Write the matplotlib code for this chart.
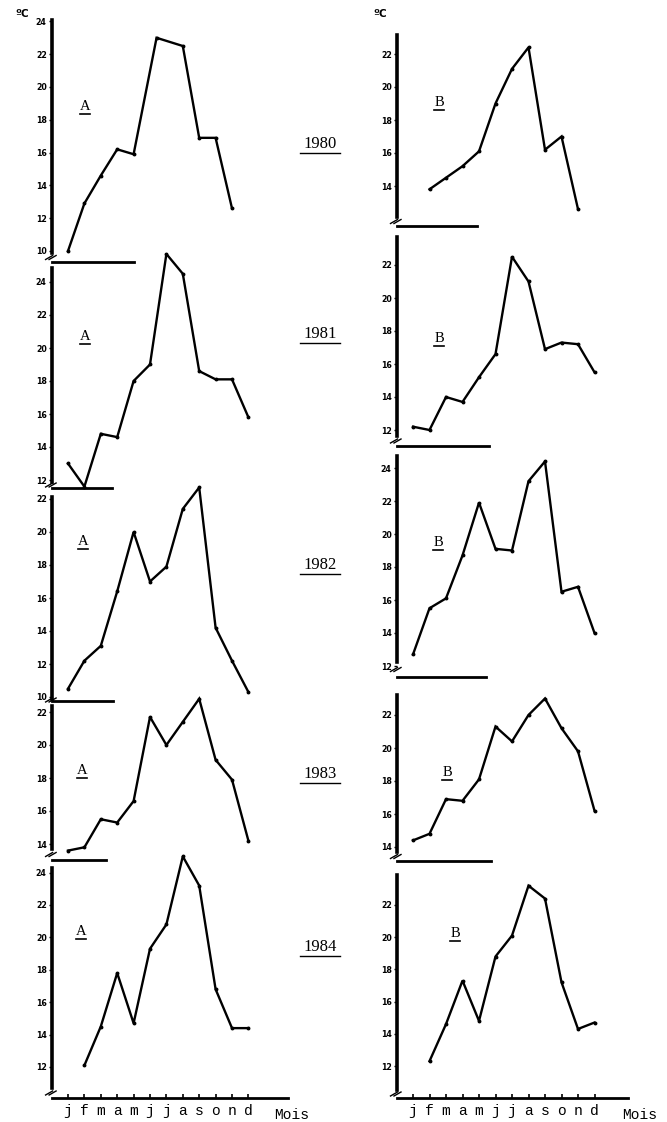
import matplotlib
matplotlib.use("Agg")
import matplotlib.pyplot as plt
from matplotlib.lines import Line2D

# ---------------- data ----------------
months = ['j', 'f', 'm', 'a', 'm', 'j', 'j', 'a', 's', 'o', 'n', 'd']
years = ['1980', '1981', '1982', '1983', '1984']

a1980_x = [0, 1, 2, 3, 4, 5.4, 7, 8, 9, 10]
a1980_t = [10.0, 12.9, 14.6, 16.2, 15.9, 23.0, 22.5, 16.9, 16.9, 12.6]
b1980_x = [1, 2, 3, 4, 5, 6, 7, 8, 9, 10]
b1980_t = [13.8, 14.5, 15.2, 16.1, 19.0, 21.1, 22.4, 16.2, 17.0, 12.6]

a1981_x = list(range(12))
a1981_t = [13.0, 11.6, 14.8, 14.6, 18.0, 19.0, 25.7, 24.5, 18.6, 18.1, 18.1, 15.8]
b1981_x = list(range(12))
b1981_t = [12.2, 12.0, 14.0, 13.7, 15.2, 16.6, 22.5, 21.0, 16.9, 17.3, 17.2, 15.5]

a1982_x = list(range(12))
a1982_t = [10.5, 12.2, 13.1, 16.4, 20.0, 17.0, 17.9, 21.4, 22.7, 14.2, 12.2, 10.3]
b1982_x = list(range(12))
b1982_t = [12.7, 15.5, 16.1, 18.7, 21.9, 19.1, 19.0, 23.2, 24.4, 16.5, 16.8, 14.0]

a1983_x = list(range(12))
a1983_t = [13.6, 13.8, 15.5, 15.3, 16.6, 21.7, 20.0, 21.4, 22.8, 19.1, 17.9, 14.2]
b1983_x = list(range(12))
b1983_t = [14.4, 14.8, 16.9, 16.8, 18.1, 21.3, 20.4, 22.0, 23.0, 21.2, 19.8, 16.2]

a1984_x = list(range(1, 12))
a1984_t = [12.1, 14.5, 17.8, 14.7, 19.3, 20.8, 25.0, 23.2, 16.8, 14.4, 14.4]
b1984_x = list(range(1, 12))
b1984_t = [12.3, 14.6, 17.3, 14.8, 18.8, 20.1, 23.2, 22.4, 17.2, 14.3, 14.7]

a_ticks = [list(range(10, 25, 2)), list(range(12, 25, 2)), list(range(10, 23, 2)),
           list(range(14, 23, 2)), list(range(12, 25, 2))]
b_ticks = [list(range(14, 23, 2)), list(range(12, 23, 2)), list(range(12, 25, 2)),
           list(range(14, 23, 2)), list(range(12, 23, 2))]

# ---------------- layout (pixels) ----------------
W, H = 667, 1122
fig = plt.figure(figsize=(W / 100, H / 100), dpi=100)

def fx(x):
    return x / W

def fy(y):
    return 1 - y / H

# column: (x px of month 0, px per month)
cols = {'A': (68.0, 16.4), 'B': (413.0, 16.5)}
# panel: ref_T, ref_px, scale, top_px, spine_bottom_px, axisline_px, xline_end
layout = {
    ('A', 0): (10, 251, 16.4, 20, 253, 262, 4.0),
    ('A', 1): (12, 480, 16.5, 268, 482, 488, 2.7),
    ('A', 2): (10, 697, 16.5, 497, 699, 701, 2.75),
    ('A', 3): (14, 844, 16.5, 706, 849, 860, 2.3),
    ('A', 4): (12, 1067, 16.2, 868, 1088, 1098, 13.4),
    ('B', 0): (14, 186, 16.5, 35, 217, 226, 3.9),
    ('B', 1): (12, 430, 16.5, 237, 436, 446, 4.6),
    ('B', 2): (14, 633, 16.5, 456, 662, 677, 4.4),
    ('B', 3): (14, 847, 16.5, 695, 852, 861, 4.7),
    ('B', 4): (12, 1066, 16.1, 875, 1090, 1098, 13.0),
}
series = {
    ('A', 0): (a1980_x, a1980_t), ('B', 0): (b1980_x, b1980_t),
    ('A', 1): (a1981_x, a1981_t), ('B', 1): (b1981_x, b1981_t),
    ('A', 2): (a1982_x, a1982_t), ('B', 2): (b1982_x, b1982_t),
    ('A', 3): (a1983_x, a1983_t), ('B', 3): (b1983_x, b1983_t),
    ('A', 4): (a1984_x, a1984_t), ('B', 4): (b1984_x, b1984_t),
}
label_pos = {  # position of the A/B letters (px)
    ('A', 0): (85, 110), ('A', 1): (85, 340), ('A', 2): (83, 545),
    ('A', 3): (82, 774), ('A', 4): (81, 935),
    ('B', 0): (439, 106), ('B', 1): (439, 342), ('B', 2): (438, 546),
    ('B', 3): (447, 776), ('B', 4): (455, 937),
}
year_y = [148, 338, 569, 778, 951]

tick_font = dict(family='DejaVu Sans', weight='bold', size=6.3, stretch='condensed')
mono = ['Liberation Mono', 'DejaVu Sans Mono']
serif = ['Liberation Serif', 'DejaVu Serif']

for (col, i), (refT, refpx, s, top, sbot, axl, xend) in layout.items():
    x0, dx = cols[col]
    xmin, xmax = -1.0, 14.0
    left = x0 + xmin * dx
    right = x0 + xmax * dx
    ax = fig.add_axes([fx(left), fy(axl), (right - left) / W, (axl - top) / H])
    ylo = refT - (axl - refpx) / s
    yhi = refT + (refpx - top) / s
    ax.set_xlim(xmin, xmax)
    ax.set_ylim(ylo, yhi)
    ax.patch.set_alpha(0)

    xs, ts = series[(col, i)]
    ax.plot(xs, ts, color='black', lw=1.7, marker='o', ms=1.8,
            solid_joinstyle='miter', clip_on=False, zorder=3)

    for sp in ('top', 'right'):
        ax.spines[sp].set_visible(False)
    ax.spines['left'].set_linewidth(2.6)
    ax.spines['left'].set_bounds(refT - (sbot - refpx) / s, yhi)
    ax.spines['bottom'].set_linewidth(2.0)
    ax.spines['bottom'].set_bounds(xmin, xend)

    ticks = a_ticks[i] if col == 'A' else b_ticks[i]
    ax.set_yticks(ticks)
    ax.set_yticklabels([str(t) for t in ticks], fontdict=tick_font)
    ax.tick_params(axis='y', direction='out', length=2.5, width=1.0, pad=1.0)

    if i == 4:
        ax.set_xticks(range(12))
        ax.set_xticklabels(months, fontfamily=mono, fontsize=10.5)
        ax.tick_params(axis='x', direction='in', length=3, width=1.2, pad=4)
    else:
        ax.set_xticks([])

    # axis break marks
    ybrk = (sbot + axl) / 2
    for off in (-2.0, 1.5):
        fig.add_artist(Line2D([fx(left - 4 + off), fx(left + 3 + off)],
                              [fy(ybrk + 2), fy(ybrk - 2)],
                              color='black', lw=1.0))

    # A/B letter, underlined
    lx, ly = label_pos[(col, i)]
    fig.text(fx(lx), fy(ly), col, fontfamily=serif, fontsize=10.5,
             ha='center', va='baseline')
    fig.add_artist(Line2D([fx(lx - 5), fx(lx + 5)], [fy(ly + 4), fy(ly + 4)],
                          color='black', lw=1.2))

# year labels, underlined
for y, yr in zip(year_y, years):
    fig.text(fx(320), fy(y), yr, fontfamily=serif, fontsize=12,
             ha='center', va='baseline')
    fig.add_artist(Line2D([fx(300), fx(340)], [fy(y + 5), fy(y + 5)],
                          color='black', lw=1.0))

# unit labels
for x in (22, 380):
    fig.text(fx(x), fy(17), 'ºC', fontfamily='DejaVu Sans', fontweight='bold',
             fontsize=7.5, ha='center', va='baseline')

# "Mois"
for x in (292, 640):
    fig.text(fx(x), fy(1119), 'Mois', fontfamily=mono, fontsize=10.5,
             ha='center', va='baseline')

fig.savefig('out.png', dpi=100, facecolor='white')
